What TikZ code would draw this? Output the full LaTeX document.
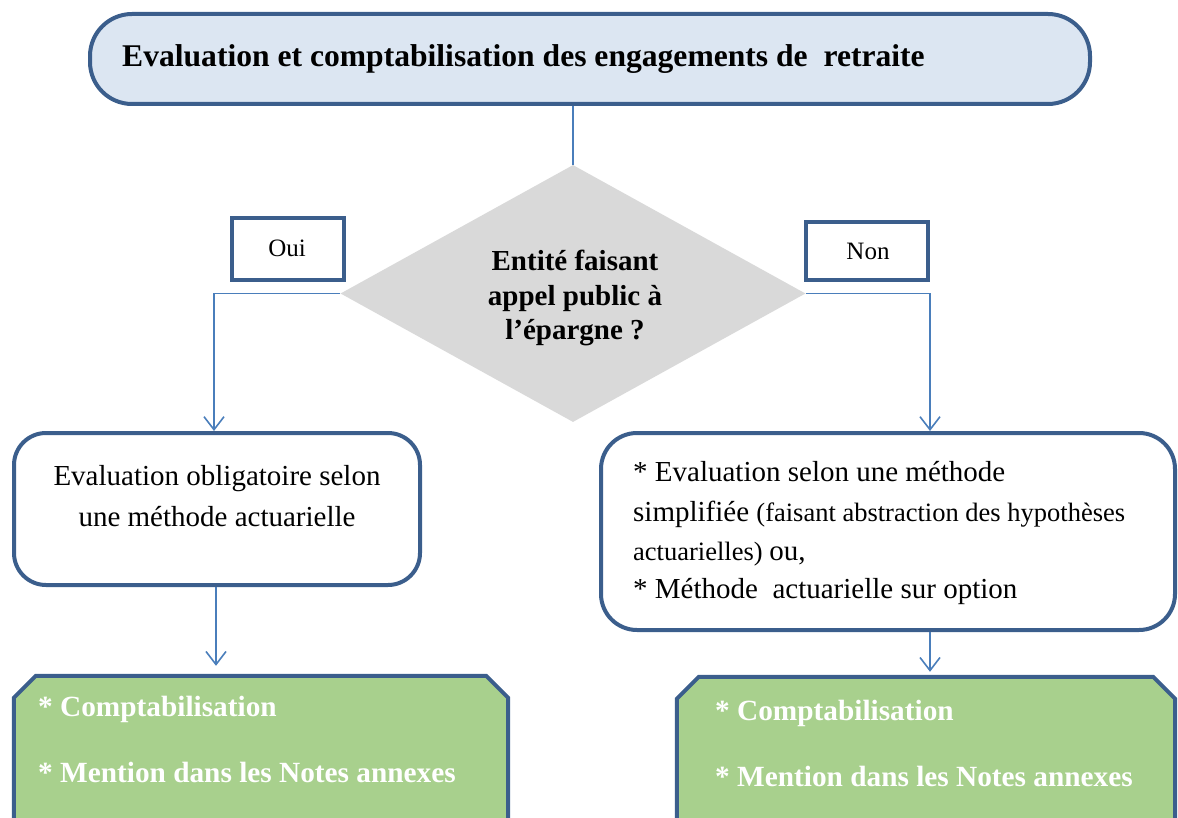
\documentclass[tikz,border=0pt]{standalone}
\usepackage{fontspec}
\setmainfont{Liberation Serif}
\usetikzlibrary{shapes.geometric,arrows.meta}
\definecolor{bordblue}{HTML}{3B5E8C}
\definecolor{titlefill}{HTML}{DCE6F2}
\definecolor{linkblue}{HTML}{4A7EBB}
\definecolor{diagray}{HTML}{D9D9D9}
\definecolor{greenfill}{HTML}{A8D08D}
\tikzset{
  boxborder/.style={draw=bordblue, line width=4pt},
  roundbox/.style={boxborder, fill=white, rounded corners=32pt, inner sep=0pt},
  labelbox/.style={boxborder, fill=white, inner sep=0pt},
  greenarea/.style={inner sep=0pt},
  greenpath/.style={boxborder, fill=greenfill, line join=miter},
  link/.style={draw=linkblue, line width=1.6pt},
  arrowlink/.style={link, -{Straight Barb[length=13pt,width=20pt,line width=1.6pt]}},
  txt/.style={inner sep=0pt, text=black},
  gtxt/.style={inner sep=0pt, text=white, font=\fontsize{29.3}{35}\selectfont\bfseries, anchor=base west},
}
\begin{document}
\begin{tikzpicture}[x=1pt, y=-1pt]
\useasboundingbox (0,0) rectangle (1178,818);
% top box
\node[boxborder, fill=titlefill, rounded corners=42pt, minimum width=1000pt, minimum height=90pt, inner sep=0pt] (top) at (590,59) {};
\node[txt, anchor=base west, font=\fontsize{31.6}{36}\selectfont\bfseries] (toptxt) at (122,67) {Evaluation et comptabilisation des engagements de\ \ retraite};
% diamond
\node[diamond, fill=diagray, inner sep=0pt, minimum width=465pt, minimum height=257pt, aspect=1.81] (dia) at (573,293.5) {};
\node[txt, align=center, font=\fontsize{29}{35}\selectfont\bfseries, anchor=base] (diatxt) at (575,340) {Entité faisant\\appel public à\\l’épargne ?};
% connectors
\draw[link] (top.south -| dia.north) -- (dia.north);
% Oui / Non
\node[labelbox, minimum width=112pt, minimum height=62pt] (oui) at (288,249) {};
\node[txt, anchor=base, font=\fontsize{25}{30}\selectfont] (ouitxt) at (287,257) {Oui};
\node[labelbox, minimum width=122pt, minimum height=58pt] (non) at (867,251) {};
\node[txt, anchor=base, font=\fontsize{25}{30}\selectfont] (nontxt) at (868,260) {Non};
% left white box
\node[roundbox, minimum width=406pt, minimum height=152pt] (ev1) at (217,509) {};
\node[txt, align=center, anchor=base, font=\fontsize{29}{41}\selectfont] (ev1txt) at (217,526) {Evaluation obligatoire selon\\une méthode actuarielle};
% right white box
\node[roundbox, rounded corners=36pt, minimum width=574pt, minimum height=197pt] (ev2) at (888,531.5) {};
\node[txt, anchor=base west, font=\fontsize{29}{39}\selectfont] (ev2a) at (633,481) {* Evaluation selon une méthode};
\node[txt, anchor=base west, font=\fontsize{29}{39}\selectfont] (ev2b) at (633,521) {simplifiée {\fontsize{26.5}{30}\selectfont (faisant abstraction des hypothèses}};
\node[txt, anchor=base west, font=\fontsize{26.5}{30}\selectfont] (ev2c) at (633,560) {actuarielles) {\fontsize{29}{35}\selectfont ou,}};
\node[txt, anchor=base west, font=\fontsize{29}{39}\selectfont] (ev2d) at (633,598) {* Méthode\ \ actuarielle sur option};
% green boxes
\node[greenarea, minimum width=494pt, minimum height=160pt] (g1) at (261,756) {};
\draw[greenpath] ([yshift=-30pt]g1.south west) -- ([yshift=-22pt]g1.north west) -- ([xshift=22pt]g1.north west) -- ([xshift=-22pt]g1.north east) -- ([yshift=-22pt]g1.north east) -- ([yshift=-30pt]g1.south east);
\node[gtxt] (g1a) at (38,716) {* Comptabilisation};
\node[gtxt] (g1b) at (38,782) {* Mention dans les Notes annexes};
\node[greenarea, minimum width=498pt, minimum height=160pt] (g2) at (926,757) {};
\draw[greenpath] ([yshift=-30pt]g2.south west) -- ([yshift=-22pt]g2.north west) -- ([xshift=22pt]g2.north west) -- ([xshift=-22pt]g2.north east) -- ([yshift=-22pt]g2.north east) -- ([yshift=-30pt]g2.south east);
\node[gtxt] (g2a) at (715,720) {* Comptabilisation};
\node[gtxt] (g2b) at (715,786) {* Mention dans les Notes annexes};
% arrows
\draw[arrowlink] (dia.west) -| ([xshift=-3pt]ev1.north);
\draw[arrowlink] (dia.east) -| ([xshift=42pt]ev2.north);
\draw[arrowlink, shorten >=10pt] ([xshift=-1pt]ev1.south) -- ([xshift=-1pt]ev1.south |- g1.north);
\draw[arrowlink, shorten >=5pt] ([xshift=42pt]ev2.south) -- ([xshift=42pt]ev2.south |- g2.north);
\end{tikzpicture}
\end{document}
